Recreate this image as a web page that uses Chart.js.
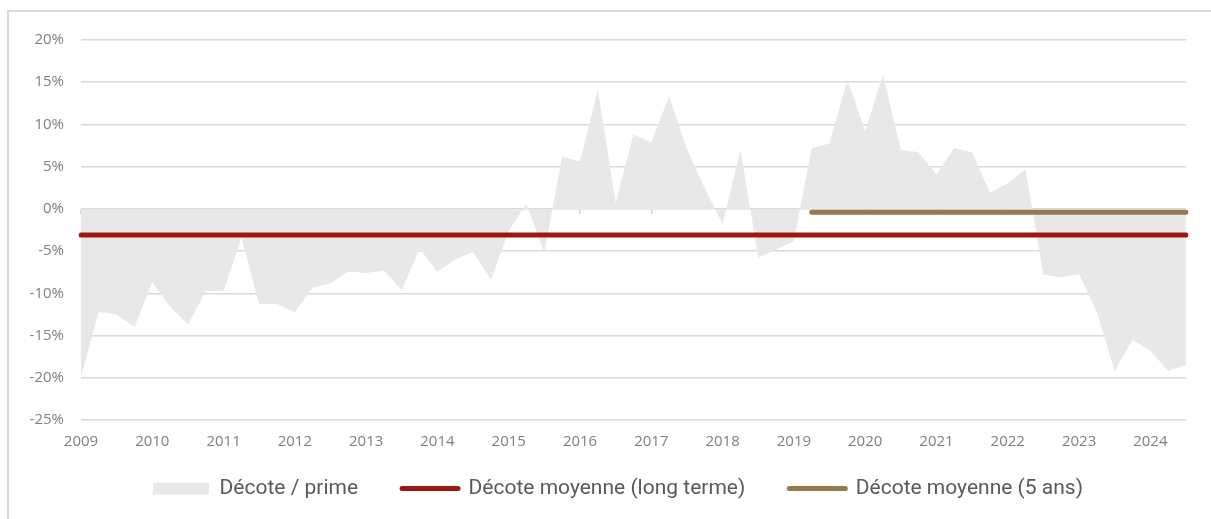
<!DOCTYPE html>
<html lang="fr">
<head>
<meta charset="UTF-8">
<title>Décote / prime</title>
<script src="https://cdn.jsdelivr.net/npm/chart.js"></script>
<style>
  html, body { margin: 0; padding: 0; background: #fff; }
  body { width: 1211px; height: 519px; position: relative; overflow: hidden; }
  .frame { position: absolute; left: 7px; top: 10px; right: -10px; bottom: -10px;
           border-left: 2px solid #d9d9d9; border-top: 2px solid #d9d9d9; }
  #wrap { position: absolute; left: 0; top: 0; width: 1211px; height: 519px; }
</style>
</head>
<body>
<div class="frame"></div>
<div id="wrap"><canvas id="chart"></canvas></div>
<script>
// tick labels (years) and quarterly categories
const years = ['2009', '2010', '2011', '2012', '2013', '2014', '2015', '2016',
               '2017', '2018', '2019', '2020', '2021', '2022', '2023', '2024'];
const quarters = years.flatMap(y => [y + ' T1', y + ' T2', y + ' T3', y + ' T4']).slice(0, 63);

// décote / prime, % (quarterly, 2009 T1 -> 2024 T3)
const decote = [
  -19.9, -12.2, -12.5, -14.0, -8.7, -11.6, -13.7, -9.75,
  -9.7, -3.4, -11.3, -11.25, -12.2, -9.3, -8.8, -7.4,
  -7.6, -7.3, -9.6, -4.7, -7.45, -6.0, -5.1, -8.4,
  -2.6, 0.6, -5.2, 6.2, 5.6, 14.15, 0.7, 8.8,
  7.9, 13.35, 7.0, 2.4, -1.8, 7.0, -5.8, -4.8,
  -3.8, 7.2, 7.75, 15.3, 9.2, 15.9, 7.0, 6.7,
  4.1, 7.2, 6.7, 1.9, 3.0, 4.7, -7.8, -8.1,
  -7.7, -12.2, -19.2, -15.5, -16.8, -19.2, -18.5
];

// averages
const longTermAvg = -3.1;
const fiveYearAvg = -0.4;
const longTermSpan = ['2009 T1', '2024 T3'];
const fiveYearSpan = ['2019 T2', '2024 T3'];

const seriesNames = ['Décote / prime', 'Décote moyenne (long terme)', 'Décote moyenne (5 ans)'];
const seriesColors = ['#e8e8e8', '#9b1914', '#957a4e'];

const TICK_FONT = { family: '"Open Sans", sans-serif', size: 15 };
const LEGEND_FONT = { family: 'Roboto, "Open Sans", sans-serif', size: 21 };
const TICK_COLOR = '#7f7f7f';

function yearLabel(i) {
  const q = quarters[i] || '';
  return q.endsWith('T1') ? q.slice(0, 4) : '';
}

new Chart(document.getElementById('chart'), {
  type: 'line',
  data: {
    labels: quarters,
    datasets: [
      {
        label: seriesNames[0],
        data: decote,
        fill: 'origin',
        backgroundColor: seriesColors[0],
        borderWidth: 0,
        pointRadius: 0,
        tension: 0,
        order: 2
      },
      {
        label: seriesNames[1],
        data: longTermSpan.map(q => ({ x: q, y: longTermAvg })),
        borderColor: seriesColors[1],
        borderWidth: 5,
        borderCapStyle: 'round',
        pointRadius: 0,
        fill: false,
        order: 1
      },
      {
        label: seriesNames[2],
        data: fiveYearSpan.map(q => ({ x: q, y: fiveYearAvg })),
        borderColor: seriesColors[2],
        borderWidth: 5,
        borderCapStyle: 'round',
        pointRadius: 0,
        fill: false,
        order: 0
      }
    ]
  },
  options: {
    responsive: true,
    maintainAspectRatio: false,
    animation: false,
    layout: { padding: { top: 40, right: 0, bottom: 10, left: 25 } },
    scales: {
      // data axis, only keeps a small gap above the legend
      x: {
        type: 'category',
        offset: false,
        grid: { display: false, drawTicks: false },
        border: { display: false },
        ticks: { display: false },
        afterFit: s => { s.height = 14; }
      },
      // year labels under the -25% line
      xl: {
        type: 'category',
        position: { y: -25 },
        offset: false,
        grid: { display: false, drawTicks: false },
        border: { display: false },
        ticks: {
          autoSkip: false,
          maxRotation: 0,
          minRotation: 0,
          padding: 13,
          color: TICK_COLOR,
          font: TICK_FONT,
          callback: (v, i) => yearLabel(i)
        }
      },
      // small tick marks on the 0% line
      xt: {
        type: 'category',
        position: { y: 0 },
        offset: false,
        z: 1,
        border: { display: false },
        grid: {
          drawOnChartArea: false,
          drawTicks: true,
          tickLength: 5,
          lineWidth: 1.5,
          color: c => yearLabel(c.index) ? '#d4d4d4' : 'rgba(0,0,0,0)'
        },
        ticks: { display: false, autoSkip: false }
      },
      y: {
        min: -25,
        max: 20,
        border: { display: false },
        grid: { color: '#d9d9d9', lineWidth: 1.5, drawTicks: false },
        ticks: {
          stepSize: 5,
          padding: 17,
          color: TICK_COLOR,
          font: TICK_FONT,
          callback: v => v + '%'
        },
        afterFit: s => { s.width = 56; }
      },
      // empty right margin
      y2: {
        position: 'right',
        grid: { display: false, drawTicks: false },
        border: { display: false },
        ticks: { display: false },
        afterFit: s => { s.width = 25; }
      }
    },
    plugins: {
      title: { display: false },
      tooltip: { enabled: false },
      legend: {
        position: 'bottom',
        labels: {
          usePointStyle: true,
          pointStyleWidth: 56,
          boxHeight: 12,
          padding: 44,
          color: '#595959',
          font: LEGEND_FONT,
          generateLabels: chart => chart.data.datasets.map((ds, i) => ({
            text: ds.label,
            datasetIndex: i,
            fillStyle: seriesColors[i],
            strokeStyle: seriesColors[i],
            lineWidth: i === 0 ? 0 : 5,
            lineCap: 'round',
            pointStyle: i === 0 ? 'rect' : 'line',
            fontColor: '#595959',
            hidden: false
          }))
        }
      }
    }
  }
});
</script>
</body>
</html>
